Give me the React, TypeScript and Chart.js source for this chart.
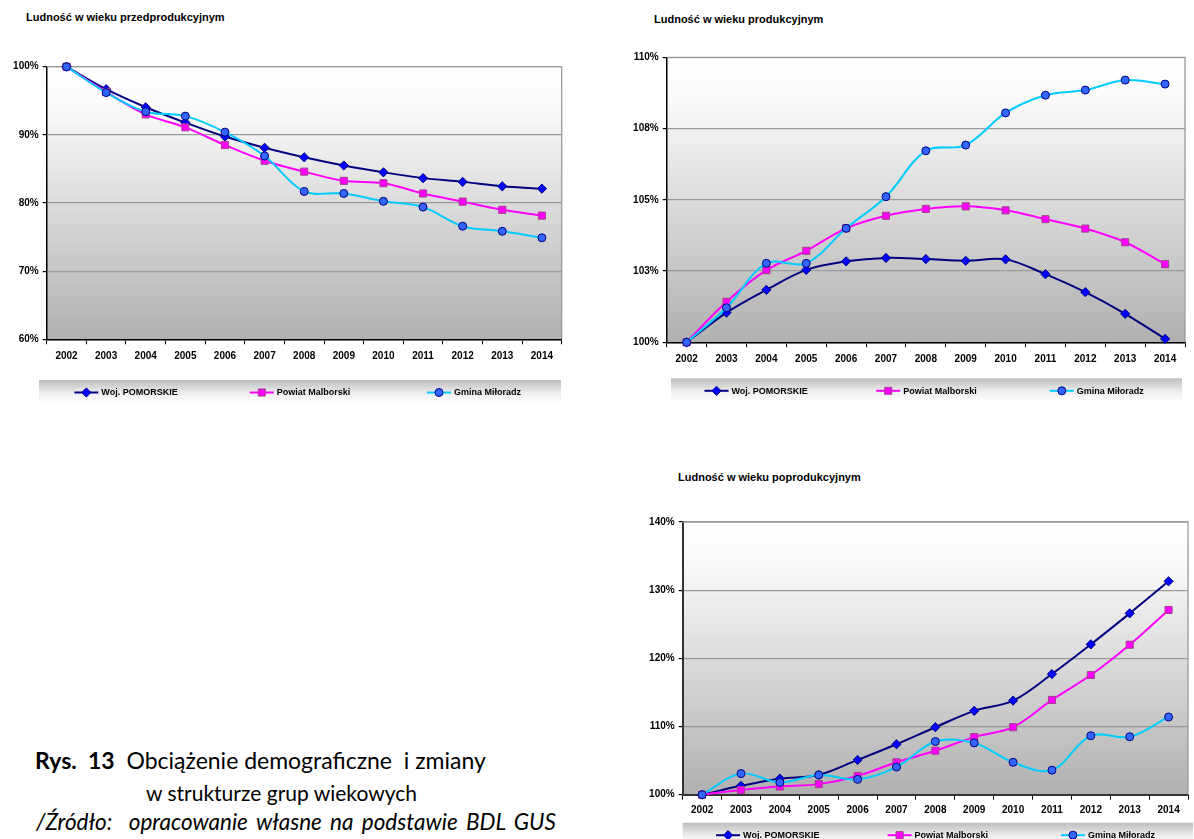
import React, { useEffect, useRef } from 'react';
import { Chart, registerables } from 'chart.js';

Chart.register(...registerables);

// ---------- DATA ----------
const years = ['2002', '2003', '2004', '2005', '2006', '2007', '2008', '2009', '2010', '2011', '2012', '2013', '2014'];
const seriesNames = ['Woj. POMORSKIE', 'Powiat Malborski', 'Gmina Miłoradz'];

const titlePre = 'Ludność w wieku przedprodukcyjnym';
const titleProd = 'Ludność w wieku produkcyjnym';
const titlePost = 'Ludność w wieku poprodukcyjnym';

const preWoj = [100, 96.7, 94.05, 91.8, 89.75, 88.1, 86.7, 85.5, 84.5, 83.65, 83.1, 82.45, 82.1];
const prePowiat = [100, 96.3, 93.0, 91.1, 88.5, 86.2, 84.6, 83.25, 82.9, 81.4, 80.2, 79.0, 78.15];
const preGmina = [100, 96.2, 93.4, 92.75, 90.4, 86.9, 81.7, 81.4, 80.25, 79.4, 76.6, 75.85, 74.9];

const prodWoj = [100, 101.04, 101.84, 102.54, 102.84, 102.96, 102.92, 102.86, 102.91, 102.39, 101.76, 101.0, 100.12];
const prodPowiat = [100, 101.42, 102.53, 103.21, 104.0, 104.44, 104.68, 104.77, 104.63, 104.32, 103.99, 103.51, 102.74];
const prodGmina = [100, 101.21, 102.77, 102.77, 104.0, 105.11, 106.72, 106.92, 108.05, 108.67, 108.85, 109.2, 109.06];

const postWoj = [100, 101.3, 102.35, 102.9, 105.1, 107.4, 109.9, 112.3, 113.8, 117.7, 122.05, 126.6, 131.3];
const postPowiat = [100, 100.7, 101.2, 101.55, 102.75, 104.75, 106.45, 108.45, 109.9, 113.9, 117.55, 122.0, 127.1];
const postGmina = [100, 103.1, 101.8, 102.9, 102.25, 104.05, 107.8, 107.6, 104.75, 103.6, 108.65, 108.5, 111.4];

// y-axis ranges [min, max, step]
const preAxis = [60, 100, 10];
const prodAxis = [100, 110, 2.5];
const postAxis = [100, 140, 10];

// ---------- STYLES ----------
const SERIES_STYLE = [
  { line: '#000080', fill: '#0000ff', border: '#000080', shape: 'rectRot', r: 4.6 },
  { line: '#ff00ff', fill: '#ff00ff', border: '#a0408a', shape: 'rect', r: 5 },
  { line: '#00ccff', fill: '#3366ff', border: '#000080', shape: 'circle', r: 4 },
];

const FONT = '"Liberation Sans", Arial, sans-serif';

function drawMarker(ctx: CanvasRenderingContext2D, shape: string, x: number, y: number, r: number) {
  ctx.beginPath();
  if (shape === 'circle') {
    ctx.arc(x, y, r, 0, Math.PI * 2);
  } else if (shape === 'rect') {
    const s = Math.SQRT1_2 * r;
    ctx.rect(x - s, y - s, 2 * s, 2 * s);
  } else {
    ctx.moveTo(x, y - r);
    ctx.lineTo(x + r, y);
    ctx.lineTo(x, y + r);
    ctx.lineTo(x - r, y);
    ctx.closePath();
  }
  ctx.fill();
  ctx.stroke();
}

const plotBg = {
  id: 'plotBg',
  beforeDraw(chart: any) {
    const { ctx, chartArea: a } = chart;
    const g = ctx.createLinearGradient(0, a.top, 0, a.bottom);
    g.addColorStop(0, '#ffffff');
    g.addColorStop(0.15, '#fafafa');
    g.addColorStop(1, '#b0b0b0');
    ctx.save();
    ctx.fillStyle = g;
    ctx.fillRect(a.left, a.top, a.right - a.left, a.bottom - a.top);
    ctx.restore();
  },
  beforeDatasetsDraw(chart: any) {
    const { ctx, chartArea: a } = chart;
    ctx.save();
    ctx.strokeStyle = '#9a9a9a';
    ctx.lineWidth = 1.3;
    ctx.beginPath();
    ctx.moveTo(a.left, a.top);
    ctx.lineTo(a.right, a.top);
    ctx.lineTo(a.right, a.bottom);
    ctx.stroke();
    ctx.restore();
  },
};

const excelLegend = {
  id: 'excelLegend',
  afterDraw(chart: any, _args: any, opts: any) {
    const { ctx } = chart;
    const { x, y, w, h } = opts.box;
    ctx.save();
    const g = ctx.createLinearGradient(0, y, 0, y + h);
    g.addColorStop(0, '#bdbdbd');
    g.addColorStop(0.55, '#eeeeee');
    g.addColorStop(1, '#ffffff');
    ctx.fillStyle = g;
    ctx.fillRect(x, y, w, h);
    ctx.font = `bold 9px ${FONT}`;
    ctx.textBaseline = 'middle';
    const n = chart.data.datasets.length;
    chart.data.datasets.forEach((ds: any, i: number) => {
      const st = SERIES_STYLE[i];
      const tw = ctx.measureText(ds.label).width;
      const itemW = 24 + 3 + tw;
      const cell = w / n;
      const sx = x + i * cell + (cell - itemW) / 2;
      const cy = y + 12.5;
      ctx.strokeStyle = st.line;
      ctx.lineWidth = 2;
      ctx.beginPath();
      ctx.moveTo(sx, cy);
      ctx.lineTo(sx + 24, cy);
      ctx.stroke();
      ctx.fillStyle = st.fill;
      ctx.strokeStyle = st.border;
      ctx.lineWidth = 1;
      drawMarker(ctx, st.shape, sx + 12, cy, st.r);
      ctx.fillStyle = '#000';
      ctx.fillText(ds.label, sx + 27, cy + 0.5);
    });
    ctx.restore();
  },
};

type Props = {
  left: number; top: number; width: number; height: number;
  series: number[][];
  axis: number[];
  fmt: (v: number) => string;
  pad: { top: number; right: number; bottom: number };
  yWidth: number; xHeight: number; xPad: number;
  legendBox: { x: number; y: number; w: number; h: number };
  axisColor: string; axisWidth: number;
};

function LineChart(p: Props) {
  const ref = useRef<HTMLCanvasElement>(null);
  useEffect(() => {
    const tickFont = { family: FONT, size: 10, weight: 'bold' as const };
    const chart = new Chart(ref.current!, {
      type: 'line',
      data: {
        labels: years,
        datasets: p.series.map((vals, i) => {
          const st = SERIES_STYLE[i];
          return {
            label: seriesNames[i],
            data: vals,
            borderColor: st.line,
            borderWidth: 2,
            backgroundColor: st.fill,
            pointBackgroundColor: st.fill,
            pointBorderColor: st.border,
            pointBorderWidth: 1,
            pointStyle: st.shape as any,
            pointRadius: st.r,
            pointHoverRadius: st.r,
            tension: 0.35,
            fill: false,
            clip: false as any,
            order: 3 - i,
          };
        }),
      },
      options: {
        responsive: false,
        animation: false,
        events: [],
        layout: { padding: { top: p.pad.top, right: p.pad.right, bottom: p.pad.bottom, left: 0 } },
        plugins: {
          legend: { display: false },
          tooltip: { enabled: false },
          title: { display: false },
          excelLegend: { box: p.legendBox },
        } as any,
        scales: {
          x: {
            type: 'category',
            offset: true,
            grid: { offset: true, drawOnChartArea: false, color: '#000', tickLength: 5, lineWidth: 1 },
            border: { color: p.axisColor, width: p.axisWidth },
            ticks: { color: '#000', font: tickFont, padding: p.xPad, maxRotation: 0, autoSkip: false },
            afterFit: (s: any) => { s.height = p.xHeight; },
          },
          y: {
            min: p.axis[0],
            max: p.axis[1],
            ticks: { stepSize: p.axis[2], color: '#000', font: tickFont, padding: 4, callback: (v: any) => p.fmt(Number(v)) },
            grid: { color: '#9a9a9a', tickColor: '#000', tickLength: 4, lineWidth: 1.2 },
            border: { color: p.axisColor, width: p.axisWidth },
            afterFit: (s: any) => { s.width = p.yWidth; },
          },
        },
      },
      plugins: [plotBg, excelLegend],
    });
    return () => chart.destroy();
  }, []);
  return (
    <canvas
      ref={ref}
      width={p.width}
      height={p.height}
      style={{ position: 'absolute', left: p.left, top: p.top, width: p.width, height: p.height }}
    />
  );
}

const titleStyle: React.CSSProperties = {
  position: 'absolute',
  fontFamily: FONT,
  fontWeight: 'bold',
  fontSize: 11,
  lineHeight: '13px',
  color: '#000',
  whiteSpace: 'pre',
};

const capFont = 'Lato, "Open Sans", sans-serif';

export default function App() {
  const pct = (v: number) => Math.round(v) + '%';
  return (
    <div style={{ position: 'absolute', left: 0, top: 0, width: 1194, height: 839, background: '#fff', overflow: 'hidden' }}>
      <div style={{ ...titleStyle, left: 26, top: 11 }}>{titlePre}</div>
      <div style={{ ...titleStyle, left: 654, top: 13 }}>{titleProd}</div>
      <div style={{ ...titleStyle, left: 678, top: 471 }}>{titlePost}</div>

      <LineChart
        left={0} top={0} width={575} height={410}
        series={[preWoj, prePowiat, preGmina]}
        axis={preAxis}
        fmt={pct}
        pad={{ top: 66.7, right: 13.3, bottom: 42.7 }}
        yWidth={46.7} xHeight={28} xPad={6}
        legendBox={{ x: 39, y: 380, w: 522, h: 24 }}
        axisColor="#000" axisWidth={1.5}
      />
      <LineChart
        left={600} top={0} width={594} height={410}
        series={[prodWoj, prodPowiat, prodGmina]}
        axis={prodAxis}
        fmt={pct}
        pad={{ top: 57.3, right: 9, bottom: 39.7 }}
        yWidth={66.7} xHeight={28} xPad={6}
        legendBox={{ x: 71, y: 378.3, w: 511, h: 24 }}
        axisColor="#000" axisWidth={1.5}
      />
      <LineChart
        left={600} top={460} width={594} height={379}
        series={[postWoj, postPowiat, postGmina]}
        axis={postAxis}
        fmt={pct}
        pad={{ top: 62, right: 1, bottom: 16.3 }}
        yWidth={82.7} xHeight={28} xPad={5}
        legendBox={{ x: 82.7, y: 362.7, w: 510.3, h: 24 }}
        axisColor="#333" axisWidth={2}
      />

      <div style={{ position: 'absolute', left: 35, top: 747, fontFamily: capFont, fontSize: 23, lineHeight: '27px', whiteSpace: 'pre', color: '#000' }}>
        <b>{'Rys.  13'}</b>{'  Obciążenie demograficzne  i zmiany'}
      </div>
      <div style={{ position: 'absolute', left: 146, top: 780, fontFamily: capFont, fontSize: 21, lineHeight: '26px', whiteSpace: 'pre', color: '#000' }}>
        {'w strukturze grup wiekowych'}
      </div>
      <div style={{ position: 'absolute', left: 36, top: 809, fontFamily: capFont, fontSize: 22.5, fontStyle: 'italic', wordSpacing: 3, lineHeight: '26px', whiteSpace: 'pre', color: '#000' }}>
        {'/Źródło:  opracowanie własne na podstawie BDL GUS'}
      </div>
    </div>
  );
}
